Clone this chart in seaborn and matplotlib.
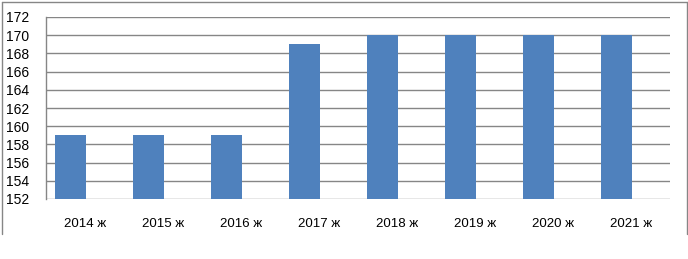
import matplotlib
matplotlib.use("Agg")
import matplotlib.pyplot as plt
import seaborn as sns
import pandas as pd
from matplotlib.lines import Line2D

years = ["2014 ж", "2015 ж", "2016 ж", "2017 ж", "2018 ж", "2019 ж", "2020 ж", "2021 ж"]
values = [159, 159, 159, 169, 170, 170, 170, 170]
yticks = list(range(152, 173, 2))

sns.set_theme(style="white")
plt.rcParams['font.family'] = ['Liberation Sans', 'DejaVu Sans']

df = pd.DataFrame({"year": years, "value": values})

W, H = 688, 259
fig = plt.figure(figsize=(W / 100, H / 100), dpi=100)
ax = fig.add_axes([46 / W, 1 - 199 / H, (670 - 46) / W, (199 - 17) / H])

sns.barplot(data=df, x="year", y="value", color="#4F81BD", saturation=1,
            width=0.4, ax=ax, zorder=3, edgecolor="none", linewidth=0)

# bars sit left of category centre (as in an Excel clustered chart)
off = 0.186
ax.set_xlim(-0.5 + off, len(years) - 0.5 + off)
ax.set_xticks([i + off for i in range(len(years))])
ax.set_xticklabels(years)

ax.set_ylim(152, 172)
ax.set_yticks(yticks)
ax.set_yticklabels([str(t) for t in yticks], fontsize=10, color="#000000")
ax.tick_params(axis="x", labelsize=9.5, colors="#000000", pad=14, length=0)
ax.tick_params(axis="y", pad=12, length=0)
ax.set_xlabel("")
ax.set_ylabel("")
ax.yaxis.grid(True, color="#868686", linewidth=1, zorder=0)
ax.set_axisbelow(True)
for s in ["top", "right", "bottom"]:
    ax.spines[s].set_visible(False)
ax.spines["left"].set_color("#868686")
ax.spines["left"].set_linewidth(1)

# outer chart frame
fc = "#868686"
fig.add_artist(Line2D([1.5 / W, 1.5 / W], [1 - 1.5 / H, 1 - 234 / H], color=fc, lw=1, transform=fig.transFigure))
fig.add_artist(Line2D([1.5 / W, 686.5 / W], [1 - 1.5 / H, 1 - 1.5 / H], color=fc, lw=1, transform=fig.transFigure))
fig.add_artist(Line2D([686.5 / W, 686.5 / W], [1 - 1.5 / H, 1 - 234 / H], color=fc, lw=1, transform=fig.transFigure))

fig.savefig("out.png", dpi=100)
